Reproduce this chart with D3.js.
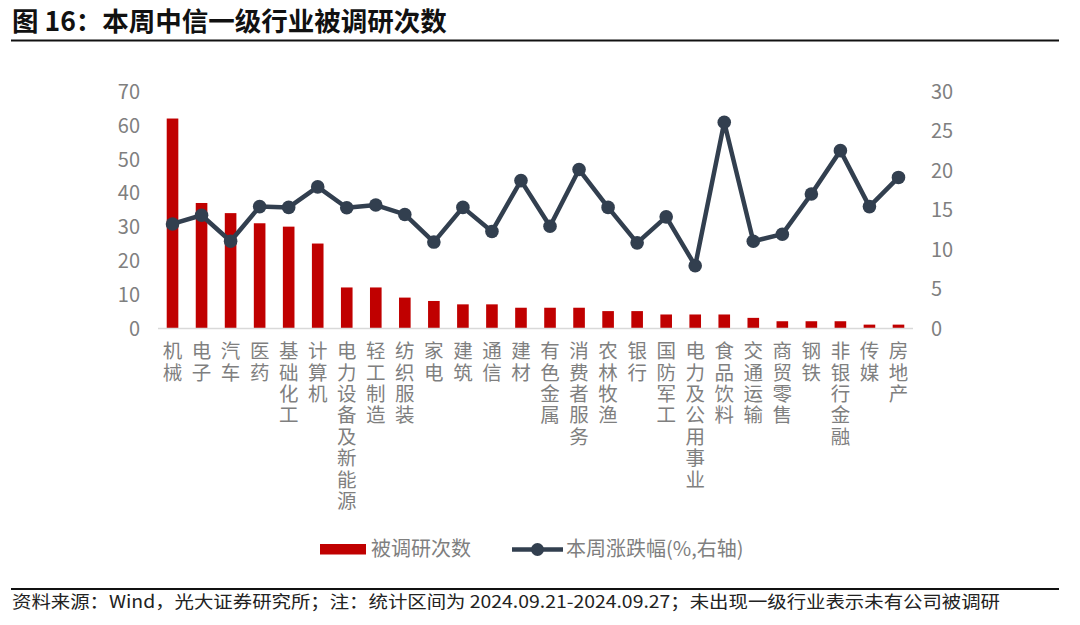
<!DOCTYPE html>
<html>
<head>
<meta charset="utf-8">
<script src="https://cdn.jsdelivr.net/npm/d3@7"></script>
<style>
  html, body { margin: 0; padding: 0; background: #ffffff; }
  svg { display: block; font-family: "Noto Sans CJK SC", "Noto Sans", sans-serif; }
</style>
</head>
<body>
<svg id="chart" width="1080" height="625"></svg>
<script>
const categories = ["机械","电子","汽车","医药","基础化工","计算机","电力设备及新能源","轻工制造","纺织服装","家电","建筑","通信","建材","有色金属","消费者服务","农林牧渔","银行","国防军工","电力及公用事业","食品饮料","交通运输","商贸零售","钢铁","非银行金融","传媒","房地产"];
const researchCounts = [62,37,34,31,30,25,12,12,9,8,7,7,6,6,6,5,5,4,4,4,3,2,2,2,1,1];
const weeklyChange = [13.2,14.3,11.0,15.4,15.3,17.9,15.25,15.6,14.4,10.9,15.3,12.25,18.7,12.9,20.1,15.3,10.8,14.1,7.9,26.1,11.0,11.9,17.0,22.5,15.4,19.1];
const leftTicks = [0,10,20,30,40,50,60,70];
const rightTicks = [0,5,10,15,20,25,30];
const title = "图 16：本周中信一级行业被调研次数";
const footnote = "资料来源：Wind，光大证券研究所；注：统计区间为 2024.09.21-2024.09.27；未出现一级行业表示未有公司被调研";
const legendBar = "被调研次数";
const legendLine = "本周涨跌幅(%,右轴)";

const svg = d3.select("#chart");
const barColor = "#c00000";
const lineColor = "#323f4f";
const tickColor = "#7f7f7f";

const x = d3.scaleBand().domain(categories).range([158, 913]).paddingInner(0.6).paddingOuter(0.3);
const yL = d3.scaleLinear().domain([0, 70]).range([328, 91.5]);
const yR = d3.scaleLinear().domain([0, 30]).range([328, 91.5]);

// Title
svg.append("text").attr("x", 12).attr("y", 31)
  .attr("font-size", 26.5).attr("font-weight", "bold").attr("fill", "#111")
  .text(title);
svg.append("line").attr("x1", 11).attr("x2", 1059).attr("y1", 40.5).attr("y2", 40.5)
  .attr("stroke", "#111").attr("stroke-width", 2);

// Left axis
const axL = d3.axisLeft(yL).tickValues(leftTicks).tickSize(0).tickPadding(0);
const gL = svg.append("g").attr("transform", "translate(140,0)").call(axL);
gL.select(".domain").remove();
gL.selectAll("text").attr("font-size", 20).attr("fill", tickColor)
  .attr("font-family", "'Noto Sans CJK SC', sans-serif").attr("dy", "0.35em");

// Right axis
const axR = d3.axisRight(yR).tickValues(rightTicks).tickSize(0).tickPadding(0);
const gR = svg.append("g").attr("transform", "translate(931,0)").call(axR);
gR.select(".domain").remove();
gR.selectAll("text").attr("font-size", 20).attr("fill", tickColor)
  .attr("font-family", "'Noto Sans CJK SC', sans-serif").attr("dy", "0.35em");

// Bars
svg.append("g").selectAll("rect").data(categories).join("rect")
  .attr("x", (d) => x(d))
  .attr("width", x.bandwidth())
  .attr("y", (d, i) => yL(researchCounts[i]))
  .attr("height", (d, i) => yL(0) - yL(researchCounts[i]))
  .attr("fill", barColor);

// Baseline
svg.append("line").attr("x1", 158).attr("x2", 913).attr("y1", 328.5).attr("y2", 328.5)
  .attr("stroke", "#d9d9d9").attr("stroke-width", 1.5);

// Line
const cx = (d) => x(d) + x.bandwidth() / 2;
const line = d3.line().x((d) => cx(d)).y((d, i) => yR(weeklyChange[i]));
svg.append("path").datum(categories).attr("d", line)
  .attr("fill", "none").attr("stroke", lineColor).attr("stroke-width", 4.5).attr("stroke-linejoin", "round");
svg.append("g").selectAll("circle").data(categories).join("circle")
  .attr("cx", (d) => cx(d)).attr("cy", (d, i) => yR(weeklyChange[i])).attr("r", 6.8)
  .attr("fill", lineColor);

// Category labels (vertical writing)
svg.append("g").selectAll("text").data(categories).join("text")
  .attr("x", (d) => cx(d)).attr("y", 341)
  .attr("writing-mode", "vertical-rl")
  .style("writing-mode", "vertical-rl")
  .style("text-orientation", "upright")
  .style("letter-spacing", "1.9px")
  .attr("font-size", 19.5).attr("fill", tickColor)
  .text((d) => d);

// Legend
svg.append("rect").attr("x", 320).attr("y", 544).attr("width", 46).attr("height", 10.5).attr("fill", barColor);
svg.append("text").attr("x", 371).attr("y", 556).attr("font-size", 20).attr("fill", tickColor).text(legendBar);
svg.append("line").attr("x1", 512).attr("x2", 563).attr("y1", 549.5).attr("y2", 549.5)
  .attr("stroke", lineColor).attr("stroke-width", 4.5);
svg.append("circle").attr("cx", 537.5).attr("cy", 549.5).attr("r", 6.5).attr("fill", lineColor);
svg.append("text").attr("x", 566).attr("y", 556).attr("font-size", 20).attr("fill", tickColor).text(legendLine);

// Footer
svg.append("line").attr("x1", 11).attr("x2", 1059).attr("y1", 589).attr("y2", 589)
  .attr("stroke", "#111").attr("stroke-width", 2);
svg.append("text").attr("x", 12).attr("y", 608).attr("font-size", 17.5).attr("fill", "#222")
  .attr("textLength", 988).attr("lengthAdjust", "spacingAndGlyphs")
  .text(footnote);
</script>
</body>
</html>
